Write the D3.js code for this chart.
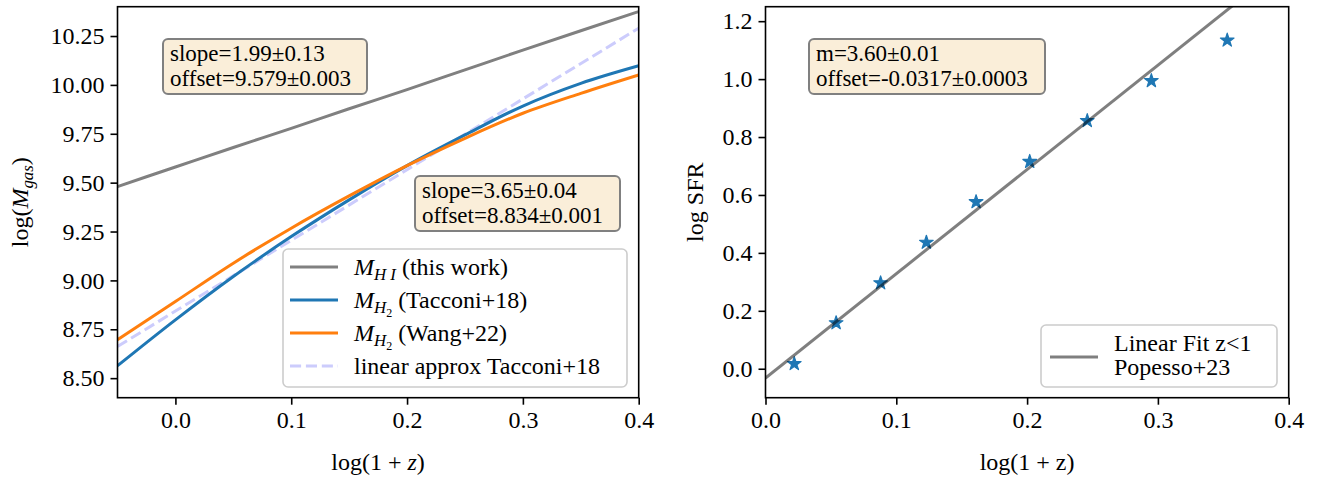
<!DOCTYPE html>
<html><head><meta charset="utf-8">
<script src="https://cdn.jsdelivr.net/npm/d3@7"></script>
<style>
body{margin:0;background:#fff}
svg{display:block}
text{font-family:"Liberation Serif","Times New Roman",serif;fill:#000}
</style>
</head><body>
<svg id="c" width="1318" height="477"></svg>
<script>
// ---------- data ----------
const logZGrid      = [-0.05, 0.0, 0.05, 0.1, 0.15, 0.2, 0.25, 0.3, 0.35, 0.4];
const mHIThisWork   = [9.480, 9.580, 9.680, 9.778, 9.878, 9.976, 10.077, 10.178, 10.277, 10.375];
const mH2Tacconi    = [8.563, 8.798, 9.020, 9.224, 9.412, 9.587, 9.744, 9.892, 10.008, 10.098];
const mH2Wang       = [8.696, 8.892, 9.088, 9.267, 9.432, 9.587, 9.727, 9.855, 9.957, 10.051];
const linApproxX    = [-0.05, 0.4];
const linApproxY    = [8.662, 10.290];

const sfrLogZ       = [0.022, 0.054, 0.088, 0.123, 0.161, 0.202, 0.246, 0.295, 0.353];
const sfrLog        = [0.017, 0.158, 0.296, 0.436, 0.576, 0.715, 0.856, 0.994, 1.134];
const fitX          = [0.0, 0.4];
const fitY          = [-0.032, 1.408];

const leftXTicks  = [0.0, 0.1, 0.2, 0.3, 0.4];
const leftYTicks  = [8.50, 8.75, 9.00, 9.25, 9.50, 9.75, 10.00, 10.25];
const rightXTicks = [0.0, 0.1, 0.2, 0.3, 0.4];
const rightYTicks = [0.0, 0.2, 0.4, 0.6, 0.8, 1.0, 1.2];

const box1Lines = ["slope=1.99\u00b10.13", "offset=9.579\u00b10.003"];
const box2Lines = ["slope=3.65\u00b10.04", "offset=8.834\u00b10.001"];
const box3Lines = ["m=3.60\u00b10.01", "offset=-0.0317\u00b10.0003"];
const rightLegendLines = ["Linear Fit z<1", "Popesso+23"];

// ---------- setup ----------
const FS = 24;
const BFS = 23;
const svg = d3.select("#c");
const L = {x0:117.5, x1:638.7, y0:6.7, y1:397.7};
const R = {x0:765.5, x1:1288.7, y0:6.7, y1:397.7};

const xL = d3.scaleLinear().domain([-0.05,0.4]).range([L.x0,L.x1]);
const yL = d3.scaleLinear().domain([8.40,10.40]).range([L.y1,L.y0]);
const xR = d3.scaleLinear().domain([0,0.4]).range([R.x0,R.x1]);
const yR = d3.scaleLinear().domain([-0.1,1.25]).range([R.y1,R.y0]);

const defs = svg.append("defs");
defs.append("clipPath").attr("id","clipL").append("rect")
  .attr("x",L.x0).attr("y",L.y0).attr("width",L.x1-L.x0).attr("height",L.y1-L.y0);
defs.append("clipPath").attr("id","clipR").append("rect")
  .attr("x",R.x0).attr("y",R.y0).attr("width",R.x1-R.x0).attr("height",R.y1-R.y0);

// math-text helper: parts = [{t, it, lv}]
const lvSize = [1, 0.7, 0.5];
const lvOff  = [0, 0.22, 0.36];
function mathText(sel, parts, fs){
  let prev = 0;
  parts.forEach(p=>{
    const lv = p.lv||0;
    const off = lvOff[lv]*fs;
    sel.append("tspan")
      .attr("dy", (off-prev).toFixed(2))
      .style("font-size", (lvSize[lv]*fs).toFixed(2)+"px")
      .style("font-style", p.it ? "italic":"normal")
      .attr("xml:space","preserve")
      .text(p.t);
    prev = off;
  });
}

function multiLine(g, x, y, lines, gap, fs){
  const t = g.append("text").attr("x",x).attr("y",y).style("font-size",fs+"px");
  lines.forEach((s,i)=>{
    t.append("tspan").attr("x",x).attr("dy", i===0 ? 0 : gap).text(s);
  });
  return t;
}

function drawAxes(g, x, y, A, xt, yt, xf, yf){
  const ax = g.append("g").attr("transform",`translate(0,${A.y1})`)
    .call(d3.axisBottom(x).tickValues(xt).tickFormat(xf).tickSize(7).tickPadding(6).tickSizeOuter(0));
  const ay = g.append("g").attr("transform",`translate(${A.x0},0)`)
    .call(d3.axisLeft(y).tickValues(yt).tickFormat(yf).tickSize(7).tickPadding(6).tickSizeOuter(0));
  [ax,ay].forEach(a=>{
    a.attr("font-family",'"Liberation Serif",serif');
    a.select(".domain").remove();
    a.selectAll(".tick line").attr("stroke","#000").attr("stroke-width",1.6);
    a.selectAll(".tick text").style("font-family",'"Liberation Serif",serif').style("font-size",FS+"px").attr("fill","#000");
  });
  g.append("rect").attr("x",A.x0).attr("y",A.y0).attr("width",A.x1-A.x0).attr("height",A.y1-A.y0)
    .attr("fill","none").attr("stroke","#000").attr("stroke-width",1.6);
}

function textBox(g, x, y, lines, w){
  const h = 55;
  g.append("rect").attr("x",x).attr("y",y).attr("width",w).attr("height",h)
    .attr("rx",5).attr("fill","#faeed9").attr("stroke","#808080").attr("stroke-width",2);
  lines.forEach((s,i)=>{
    g.append("text").attr("x",x+7).attr("y",y+22+i*24.5).style("font-size",BFS+"px").text(s);
  });
}

// ---------- left panel ----------
const gL = svg.append("g");
const plotL = gL.append("g").attr("clip-path","url(#clipL)");
const line = (x,y)=>d3.line().x(d=>x(d[0])).y(d=>y(d[1])).curve(d3.curveMonotoneX);

plotL.append("path").datum(d3.zip(logZGrid, mHIThisWork)).attr("d", line(xL,yL))
  .attr("fill","none").attr("stroke","#808080").attr("stroke-width",3);
plotL.append("path").datum(d3.zip(linApproxX, linApproxY)).attr("d", line(xL,yL))
  .attr("fill","none").attr("stroke","#ccccfc").attr("stroke-width",3).attr("stroke-dasharray","11.1,4.8");
plotL.append("path").datum(d3.zip(logZGrid, mH2Tacconi)).attr("d", line(xL,yL))
  .attr("fill","none").attr("stroke","#1f77b4").attr("stroke-width",3);
plotL.append("path").datum(d3.zip(logZGrid, mH2Wang)).attr("d", line(xL,yL))
  .attr("fill","none").attr("stroke","#ff7f0e").attr("stroke-width",3);

drawAxes(gL, xL, yL, L, leftXTicks, leftYTicks, d3.format(".1f"), d3.format(".2f"));

textBox(gL, 163, 39, box1Lines, 204);
textBox(gL, 415, 176, box2Lines, 205);

// legend left
const lg = gL.append("g");
lg.append("rect").attr("x",283).attr("y",249).attr("width",344).attr("height",138).attr("rx",5)
  .attr("fill","#fff").attr("fill-opacity",0.8).attr("stroke","#cccccc").attr("stroke-width",1.6);
const legItems = [
  {c:"#808080", dash:null, parts:[{t:"M",it:true},{t:"H I",it:true,lv:1},{t:" (this work)",lv:0}]},
  {c:"#1f77b4", dash:null, parts:[{t:"M",it:true},{t:"H",it:true,lv:1},{t:"2",lv:2},{t:" (Tacconi+18)",lv:0}]},
  {c:"#ff7f0e", dash:null, parts:[{t:"M",it:true},{t:"H",it:true,lv:1},{t:"2",lv:2},{t:" (Wang+22)",lv:0}]},
  {c:"#ccccfc", dash:"11.1,4.8", parts:[{t:"linear approx Tacconi+18"}]}
];
legItems.forEach((it,i)=>{
  const yy = 267 + i*33;
  lg.append("line").attr("x1",290).attr("x2",338).attr("y1",yy).attr("y2",yy)
    .attr("stroke",it.c).attr("stroke-width",3).attr("stroke-dasharray",it.dash);
  const t = lg.append("text").attr("x",354).attr("y",yy+8).style("font-size",FS+"px");
  mathText(t, it.parts, FS);
});

// axis labels left
const xlabL = gL.append("text").attr("x",(L.x0+L.x1)/2).attr("y",470).attr("text-anchor","middle").style("font-size",FS+"px");
mathText(xlabL,[{t:"log(1 + "},{t:"z",it:true},{t:")"}],FS);
const ylabL = gL.append("text").attr("transform",`translate(28,${(L.y0+L.y1)/2}) rotate(-90)`)
  .attr("text-anchor","middle").style("font-size",FS+"px");
mathText(ylabL,[{t:"log("},{t:"M",it:true},{t:"gas",it:true,lv:1},{t:")",lv:0}],FS);

// ---------- right panel ----------
const gR = svg.append("g");
const plotR = gR.append("g").attr("clip-path","url(#clipR)");
const star = d3.symbol().type(d3.symbolStar).size(58);
plotR.selectAll("path.star").data(d3.zip(sfrLogZ, sfrLog)).join("path").attr("class","star")
  .attr("d", star).attr("transform", d=>`translate(${xR(d[0])},${yR(d[1])})`)
  .attr("fill","#1f77b4").attr("stroke","#1f77b4").attr("stroke-width",1.2).attr("stroke-linejoin","round");
plotR.append("path").datum(d3.zip(fitX, fitY)).attr("d", line(xR,yR))
  .attr("fill","none").attr("stroke","#000").attr("stroke-opacity",0.5).attr("stroke-width",3);

drawAxes(gR, xR, yR, R, rightXTicks, rightYTicks, d3.format(".1f"), d3.format(".1f"));

textBox(gR, 809, 39, box3Lines, 236);

// legend right
const lr = gR.append("g");
lr.append("rect").attr("x",1041).attr("y",325).attr("width",236).attr("height",62).attr("rx",5)
  .attr("fill","#fff").attr("fill-opacity",0.8).attr("stroke","#cccccc").attr("stroke-width",1.6);
lr.append("line").attr("x1",1050).attr("x2",1098).attr("y1",357).attr("y2",357)
  .attr("stroke","#000").attr("stroke-opacity",0.5).attr("stroke-width",3);
multiLine(lr, 1114, 351, rightLegendLines, 24, FS);

const xlabR = gR.append("text").attr("x",(R.x0+R.x1)/2).attr("y",470).attr("text-anchor","middle").style("font-size",FS+"px");
xlabR.text("log(1 + z)");
gR.append("text").attr("transform",`translate(703,${(R.y0+R.y1)/2}) rotate(-90)`)
  .attr("text-anchor","middle").style("font-size",FS+"px").text("log SFR");
</script>
</body></html>
